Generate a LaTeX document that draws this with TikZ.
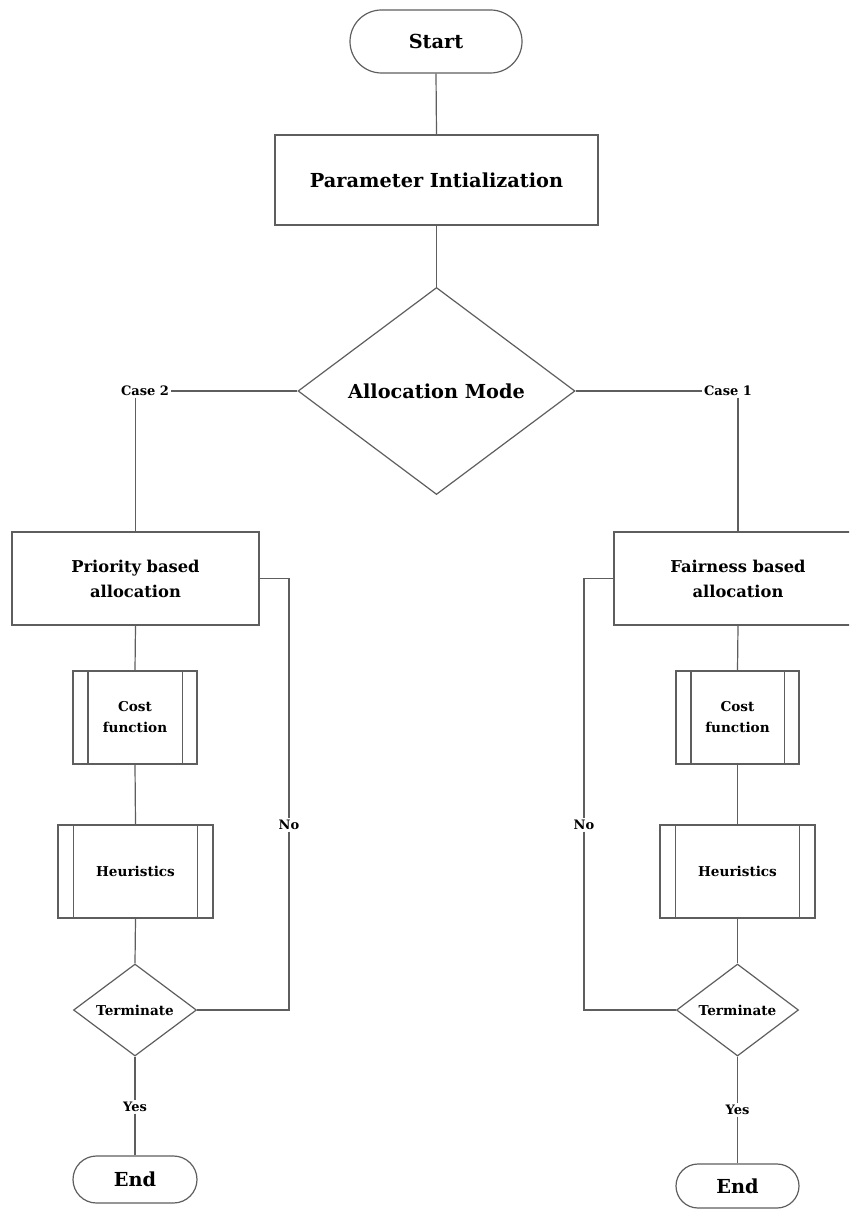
\documentclass[tikz,border=0pt]{standalone}
\usepackage{fontspec}
\setmainfont{DejaVu Serif}
\usetikzlibrary{shapes.geometric}

\definecolor{linegray}{HTML}{5E5E5E}

\tikzset{
  every node/.style={font=\bfseries, text=black},
  conn/.style={draw=linegray, line width=1.2pt},
  shape outline/.style={draw=linegray, line width=1.2pt, fill=white, inner sep=0pt},
  terminal/.style={shape outline, rectangle, rounded corners=#1},
  process/.style={shape outline, rectangle, align=center},
  decision/.style={shape outline, diamond, aspect=1, align=center},
  subroutine/.style={shape outline, rectangle, align=center},
  branchlabel/.style={fill=white, inner sep=1.5pt},
  bigtext/.style={font=\bfseries\fontsize{19.3}{23}\selectfont},
  midtext/.style={font=\bfseries\fontsize{16.3}{25}\selectfont},
  smalltext/.style={font=\bfseries\fontsize{13.6}{21}\selectfont},
  tinytext/.style={font=\bfseries\fontsize{13}{16}\selectfont},
}

\begin{document}
\begin{tikzpicture}[x=1pt, y=-1pt]
  \useasboundingbox (0,0) rectangle (849,1209);
  \clip (0,0) rectangle (849,1209);
  \fill[white] (0,0) rectangle (849,1209);

  % main column
  \node[terminal=31.5pt, minimum width=172pt, minimum height=63pt, bigtext] (start) at (436,41.5) {Start};
  \node[process, minimum width=323pt, minimum height=90pt, bigtext] (param) at (436.5,180) {Parameter Intialization};
  \node[decision, minimum width=277pt, minimum height=207pt, bigtext] (alloc) at (436.5,391) {Allocation Mode};

  % branch labels
  \node[branchlabel, tinytext] (case2) at (145,391) {Case 2};
  \node[branchlabel, tinytext] (case1) at (728,391) {Case 1};

  % left branch: priority based
  \node[process, minimum width=247pt, minimum height=93pt, midtext] (prio) at (135.5,578.5) {Priority based\\allocation};
  \node[subroutine, minimum width=124pt, minimum height=93pt, smalltext] (costL) at (135,717.5) {Cost\\function};
  \node[subroutine, minimum width=155pt, minimum height=93pt, smalltext] (heurL) at (135.5,871.5) {Heuristics};
  \node[decision, minimum width=123pt, minimum height=92pt, smalltext] (termL) at (135,1010) {Terminate};
  \node[branchlabel, tinytext] (yesL) at (135,1107) {Yes};
  \node[terminal=23.5pt, minimum width=124pt, minimum height=47pt, bigtext] (endL) at (135,1179.5) {End};
  \node[branchlabel, tinytext] (noL) at (289,825) {No};

  % right branch: fairness based
  \node[process, minimum width=248pt, minimum height=93pt, midtext] (fair) at (738,578.5) {Fairness based\\allocation};
  \node[subroutine, minimum width=123pt, minimum height=93pt, smalltext] (costR) at (737.5,717.5) {Cost\\function};
  \node[subroutine, minimum width=155pt, minimum height=93pt, smalltext] (heurR) at (737.5,871.5) {Heuristics};
  \node[decision, minimum width=122pt, minimum height=92pt, smalltext] (termR) at (737.5,1010) {Terminate};
  \node[branchlabel, tinytext] (yesR) at (737.5,1110) {Yes};
  \node[terminal=22pt, minimum width=123pt, minimum height=44pt, bigtext] (endR) at (737.5,1186) {End};
  \node[branchlabel, tinytext] (noR) at (584,825) {No};

  % side bars of the predefined-process boxes
  \foreach \n/\d in {costL/15.5, heurL/16, costR/15.5, heurR/16} {
    \draw[conn] ([xshift=\d pt]\n.north west) -- ([xshift=\d pt]\n.south west);
    \draw[conn] ([xshift=-\d pt]\n.north east) -- ([xshift=-\d pt]\n.south east);
  }

  % connectors
  \begin{scope}[on background layer/.style={}]
  \draw[conn] (start.south) -- (param.north);
  \draw[conn] (param.south) -- (alloc.north);
  \draw[conn] (alloc.west) -- (case2.east);
  \draw[conn] (alloc.east) -- (case1.west);
  \draw[conn] (case2.south -| prio.north) -- (prio.north);
  \draw[conn] (case1.south -| fair.north) -- (fair.north);

  \draw[conn] (prio.south) -- (costL.north);
  \draw[conn] (costL.south) -- (heurL.north);
  \draw[conn] (heurL.south) -- (termL.north);
  \draw[conn] (termL.south) -- (yesL.north);
  \draw[conn] (yesL.south) -- (endL.north);
  \draw[conn] (prio.east) -| (noL.north);
  \draw[conn] (noL.south) |- (termL.east);

  \draw[conn] (fair.south) -- (costR.north);
  \draw[conn] (costR.south) -- (heurR.north);
  \draw[conn] (heurR.south) -- (termR.north);
  \draw[conn] (termR.south) -- (yesR.north);
  \draw[conn] (yesR.south) -- (endR.north);
  \draw[conn] (fair.west) -| (noR.north);
  \draw[conn] (noR.south) |- (termR.west);
  \end{scope}
\end{tikzpicture}
\end{document}
